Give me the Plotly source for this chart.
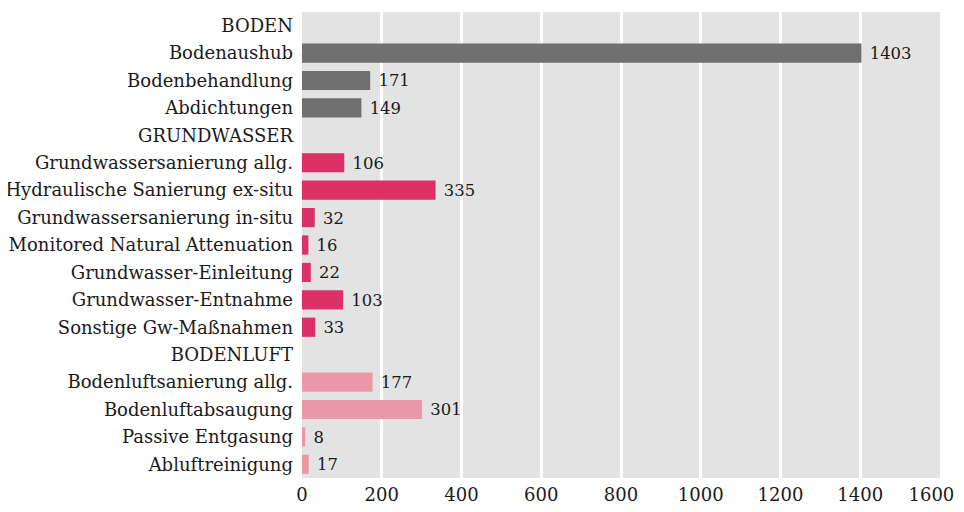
import plotly.graph_objects as go

kategorien = [
    "BODEN", "Bodenaushub", "Bodenbehandlung", "Abdichtungen",
    "GRUNDWASSER", "Grundwassersanierung allg.", "Hydraulische Sanierung ex-situ",
    "Grundwassersanierung in-situ", "Monitored Natural Attenuation",
    "Grundwasser-Einleitung", "Grundwasser-Entnahme", "Sonstige Gw-Maßnahmen",
    "BODENLUFT", "Bodenluftsanierung allg.", "Bodenluftabsaugung",
    "Passive Entgasung", "Abluftreinigung",
]
werte = [None, 1403, 171, 149,
         None, 106, 335, 32, 16, 22, 103, 33,
         None, 177, 301, 8, 17]
gruppe = ["", "boden", "boden", "boden",
          "", "gw", "gw", "gw", "gw", "gw", "gw", "gw",
          "", "luft", "luft", "luft", "luft"]
farben = {"boden": "#6f6f6f", "gw": "#dc3068", "luft": "#ec97a7", "": "#ffffff"}
x_ticks = [0, 200, 400, 600, 800, 1000, 1200, 1400, 1600]
x_ticktext = ["0", "200", "400", "600", "800", "1000", "1200", "1400",
              "1600\u00a0\u00a0\u00a0"]  # padded so the last label stays inside
x_titel = "Übersicht über die Anzahl der durchgeführten Sanierungsarten"

FONT = "DejaVu Serif"
FS = 18

fig = go.Figure()
fig.add_trace(go.Bar(
    y=kategorien, x=werte, orientation="h",
    marker=dict(color=[farben[g] for g in gruppe], line=dict(width=0)),
    width=0.7,
    text=[("" if v is None else f" {v}") for v in werte],
    textposition="outside",
    textfont=dict(family=FONT, size=FS, color="#1a1a1a"),
    cliponaxis=False,
    hoverinfo="x+y",
))

# page has an 8px body margin; keep the figure inside the window (no scrollbars)
fig.update_layout(
    width=948, height=496,
    margin=dict(l=294, r=16, t=4, b=26),
    paper_bgcolor="white",
    plot_bgcolor="#e3e3e3",
    showlegend=False,
    font=dict(family=FONT, size=FS, color="#1a1a1a"),
)
fig.update_xaxes(
    range=[0, 1600], tickvals=x_ticks, ticktext=x_ticktext,
    showgrid=True, gridcolor="white", gridwidth=3, zeroline=False,
    showline=False, ticks="", ticklen=0, ticklabelstandoff=4,
    ticklabeloverflow="allow",
    tickfont=dict(family=FONT, size=FS, color="#1a1a1a"),
    automargin=False,
)
fig.update_yaxes(
    autorange="reversed", showgrid=False, zeroline=False, ticks="",
    ticklabelstandoff=8,
    tickfont=dict(family=FONT, size=FS, color="#1a1a1a"),
    automargin=False,
)

# axis title sits at the picture's lower edge, as in the original (only its top shows)
fig.add_annotation(
    text=x_titel, xref="paper", yref="paper", x=0.5, y=0,
    xanchor="center", yanchor="top", xshift=10, yshift=-24,
    showarrow=False, font=dict(family=FONT, size=FS, color="#1a1a1a"),
)

fig.write_html("out.html")
